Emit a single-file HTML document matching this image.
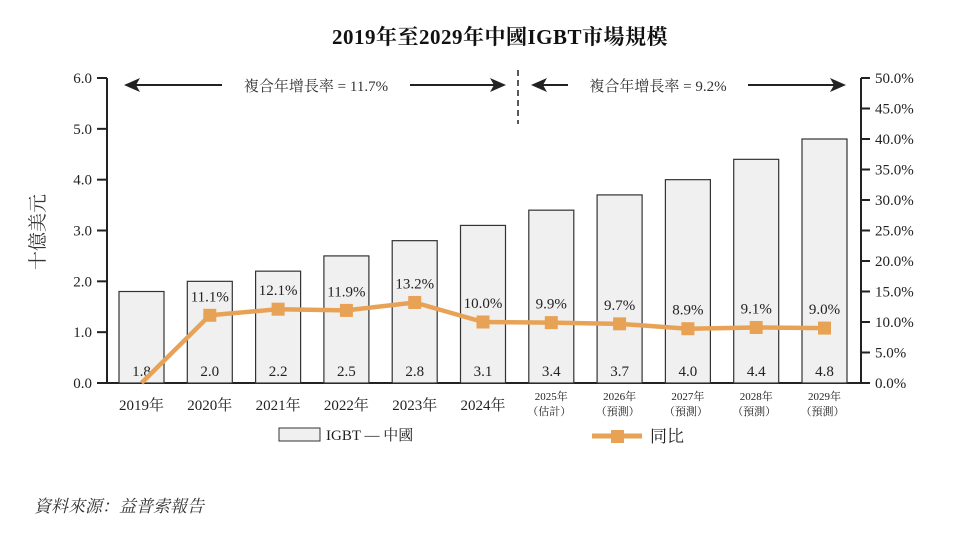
<!DOCTYPE html>
<html><head><meta charset="utf-8"><style>
body{margin:0;background:#fff;}
svg text{font-family:"Liberation Serif","Noto Serif CJK SC",serif;}
</style></head><body>
<svg id="c" width="960" height="529" xmlns="http://www.w3.org/2000/svg">
<text x="500" y="44" text-anchor="middle" font-size="21" font-weight="bold" fill="#111" letter-spacing="0.5">2019年至2029年中國IGBT市場規模</text>
<text transform="translate(44,232) rotate(-90)" text-anchor="middle" font-size="19" fill="#333" font-family="Liberation Sans,Noto Sans CJK TC,sans-serif">十億美元</text>
<g id="axes"></g><g id="bars"></g><g id="line"></g>
<g fill="#222" stroke="#222">
<line x1="128" y1="85" x2="222" y2="85" stroke-width="2"/><polygon points="124,85 140,78 136,85 140,92" stroke="none"/>
<line x1="410" y1="85" x2="500" y2="85" stroke-width="2"/><polygon points="506,85 490,78 494,85 490,92" stroke="none"/>
<text x="316" y="91" text-anchor="middle" font-size="15" stroke="none" fill="#333">複合年增長率 = 11.7%</text>
<line x1="518" y1="70" x2="518" y2="124" stroke-width="1.5" stroke-dasharray="6,4"/>
<line x1="536" y1="85" x2="568" y2="85" stroke-width="2"/><polygon points="531,85 547,78 543,85 547,92" stroke="none"/>
<line x1="748" y1="85" x2="840" y2="85" stroke-width="2"/><polygon points="846,85 830,78 834,85 830,92" stroke="none"/>
<text x="658" y="91" text-anchor="middle" font-size="15" stroke="none" fill="#333">複合年增長率 = 9.2%</text>
</g>
<g>
<rect x="279" y="428" width="41" height="13" fill="#eff0ef" stroke="#333"/>
<text x="326" y="440" font-size="15" fill="#222">IGBT — 中國</text>
<line x1="592" y1="436" x2="642" y2="436" stroke="#E8A255" stroke-width="5"/>
<rect x="611" y="430" width="13" height="13" fill="#E8A255"/>
<text x="650" y="442" font-size="17" fill="#222">同比</text>
</g>
<text x="34" y="512" font-size="17" font-style="italic" fill="#333">資料來源：益普索報告</text>
</svg>
<script>
const categories=["2019年","2020年","2021年","2022年","2023年","2024年","2025年|（估計）","2026年|（預測）","2027年|（預測）","2028年|（預測）","2029年|（預測）"];
const marketValues=[1.8,2.0,2.2,2.5,2.8,3.1,3.4,3.7,4.0,4.4,4.8];
const yoyValues=[0,11.1,12.1,11.9,13.2,10.0,9.9,9.7,8.9,9.1,9.0];
const leftTicks=[0,1,2,3,4,5,6];
const rightTicks=[0,5,10,15,20,25,30,35,40,45,50];
const NS="http://www.w3.org/2000/svg";
const y0=383,yTop=78;
const yL=v=>y0-(v/6)*(y0-yTop);
const yR=v=>y0-(v/50)*(y0-yTop);
const xC=i=>141.5+i*68.3;
function mk(t,a,p,txt){const e=document.createElementNS(NS,t);for(const k in a)e.setAttribute(k,a[k]);if(txt!==undefined)e.textContent=txt;p.appendChild(e);return e;}
const ax=document.getElementById('axes'),bg=document.getElementById('bars'),lg=document.getElementById('line');
let e=mk('line',{x1:107,y1:78,x2:107,y2:384,stroke:'#222','stroke-width':2},ax);


e=mk('line',{x1:861,y1:78,x2:861,y2:384,stroke:'#222','stroke-width':2},ax);


e=mk('line',{x1:106,y1:383,x2:862,y2:383,stroke:'#222','stroke-width':2},ax);


leftTicks.forEach(v=>{const y=yL(v);mk('line',{x1:97,y1:y,x2:107,y2:y,stroke:'#222','stroke-width':2},ax);
e=mk('text',{x:92,y:y+5,'text-anchor':'end','font-size':15,fill:'#222'},ax,v.toFixed(1));

});
rightTicks.forEach(v=>{const y=yR(v);mk('line',{x1:861,y1:y,x2:870,y2:y,stroke:'#222','stroke-width':2},ax);
e=mk('text',{x:875,y:y+5,'font-size':15,fill:'#222'},ax,v.toFixed(1)+'%');

});
categories.forEach((c,i)=>{const parts=c.split('|');
if(parts.length===1){e=mk('text',{x:xC(i),y:410,'text-anchor':'middle','font-size':15,fill:'#222'},ax,parts[0]);}
else{e=mk('text',{x:xC(i),y:400,'text-anchor':'middle','font-size':11,fill:'#222'},ax,parts[0]);mk('text',{x:xC(i)-2,y:415,'text-anchor':'middle','font-size':11,fill:'#222'},ax,parts[1]);}

});
marketValues.forEach((v,i)=>{const y=yL(v);
e=mk('rect',{x:xC(i)-22.5,y:y,width:45,height:y0-y,fill:'#eff0ef',stroke:'#333','stroke-width':1.2},bg);


e=mk('text',{x:xC(i),y:376,'text-anchor':'middle','font-size':15,fill:'#222'},bg,v.toFixed(1));

});
const pts=yoyValues.map((v,i)=>xC(i)+','+yR(v)).join(' ');
e=mk('polyline',{points:pts,fill:'none',stroke:'#E8A255','stroke-width':4.5,'stroke-linejoin':'round'},lg);


yoyValues.forEach((v,i)=>{if(i===0)return;const y=yR(v);
e=mk('rect',{x:xC(i)-6.5,y:y-6.5,width:13,height:13,fill:'#E8A255'},lg);


e=mk('text',{x:xC(i),y:y-14,'text-anchor':'middle','font-size':15,fill:'#222'},lg,v.toFixed(1)+'%');

});
</script>
</body></html>
